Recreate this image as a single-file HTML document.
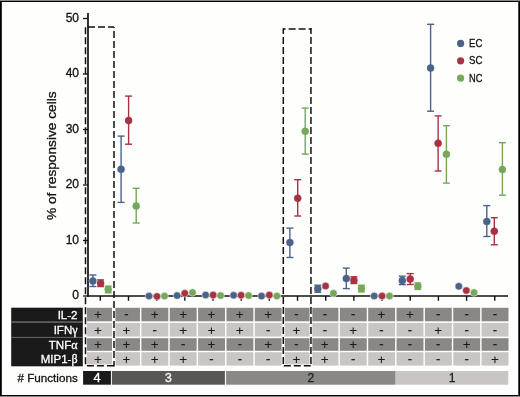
<!DOCTYPE html>
<html><head><meta charset="utf-8"><style>
html,body{margin:0;padding:0;background:#fefefc;}
svg{display:block;}
text{font-family:"Liberation Sans",Arial,sans-serif;}
</style></head><body>
<svg width="520" height="397" viewBox="0 0 520 397">
<rect x="0" y="0" width="520" height="397" fill="#fefefc"/>

<rect x="0" y="0" width="520" height="1" fill="#8a8a8a"/>
<rect x="0" y="396" width="520" height="1" fill="#8a8a8a"/>
<rect x="0" y="1" width="520" height="1" fill="#000"/>
<rect x="0" y="395" width="520" height="1" fill="#000"/>
<rect x="0" y="1" width="1" height="395" fill="#000"/>
<rect x="1" y="2" width="1" height="393" fill="#333"/>
<rect x="518" y="1" width="1" height="395" fill="#444"/>
<rect x="519" y="1" width="1" height="395" fill="#000"/>
<g stroke="#111" fill="none">
<line x1="88" y1="13" x2="88" y2="296.8" stroke-width="1.7"/>
<line x1="87.1" y1="296" x2="508" y2="296" stroke-width="1.7"/>
<line x1="83" y1="296.0" x2="88" y2="296.0" stroke-width="1.3"/>
<line x1="83" y1="240.5" x2="88" y2="240.5" stroke-width="1.3"/>
<line x1="83" y1="185.0" x2="88" y2="185.0" stroke-width="1.3"/>
<line x1="83" y1="129.5" x2="88" y2="129.5" stroke-width="1.3"/>
<line x1="83" y1="74.0" x2="88" y2="74.0" stroke-width="1.3"/>
<line x1="83" y1="18.5" x2="88" y2="18.5" stroke-width="1.3"/>
<line x1="100.30" y1="296" x2="100.30" y2="300.8" stroke-width="1.4"/>
<line x1="128.47" y1="296" x2="128.47" y2="300.8" stroke-width="1.4"/>
<line x1="156.65" y1="296" x2="156.65" y2="300.8" stroke-width="1.4"/>
<line x1="184.82" y1="296" x2="184.82" y2="300.8" stroke-width="1.4"/>
<line x1="213.00" y1="296" x2="213.00" y2="300.8" stroke-width="1.4"/>
<line x1="241.18" y1="296" x2="241.18" y2="300.8" stroke-width="1.4"/>
<line x1="269.35" y1="296" x2="269.35" y2="300.8" stroke-width="1.4"/>
<line x1="297.52" y1="296" x2="297.52" y2="300.8" stroke-width="1.4"/>
<line x1="325.70" y1="296" x2="325.70" y2="300.8" stroke-width="1.4"/>
<line x1="353.88" y1="296" x2="353.88" y2="300.8" stroke-width="1.4"/>
<line x1="382.05" y1="296" x2="382.05" y2="300.8" stroke-width="1.4"/>
<line x1="410.23" y1="296" x2="410.23" y2="300.8" stroke-width="1.4"/>
<line x1="438.40" y1="296" x2="438.40" y2="300.8" stroke-width="1.4"/>
<line x1="466.58" y1="296" x2="466.58" y2="300.8" stroke-width="1.4"/>
<line x1="494.75" y1="296" x2="494.75" y2="300.8" stroke-width="1.4"/>
</g>
<g font-size="12" fill="#111" stroke="#111" stroke-width="0.3" text-anchor="end">
<text x="79" y="299.3">0</text>
<text x="79" y="243.8">10</text>
<text x="79" y="188.3">20</text>
<text x="79" y="132.8">30</text>
<text x="79" y="77.3">40</text>
<text x="79" y="21.8">50</text>
</g>
<text transform="translate(55.6,155.7) rotate(-90)" text-anchor="middle" font-size="13.7" fill="#111" stroke="#111" stroke-width="0.3">% of responsive cells</text>
<circle cx="92.9" cy="280.9" r="3.75" fill="#4a6389" stroke="#fff" stroke-width="0.5"/>
<g stroke="#4a6389" stroke-width="1.4"><line x1="92.9" y1="275" x2="92.9" y2="286.5"/><line x1="89.4" y1="275" x2="96.4" y2="275"/><line x1="89.4" y1="286.5" x2="96.4" y2="286.5"/></g>
<circle cx="92.9" cy="280.9" r="3.5" fill="#4a6389"/>
<circle cx="100.6" cy="283.2" r="3.75" fill="#a63244" stroke="#fff" stroke-width="0.5"/>
<g stroke="#a63244" stroke-width="1.4"><line x1="100.6" y1="279.9" x2="100.6" y2="286.5"/><line x1="97.1" y1="279.9" x2="104.1" y2="279.9"/><line x1="97.1" y1="286.5" x2="104.1" y2="286.5"/></g>
<circle cx="100.6" cy="283.2" r="3.5" fill="#a63244"/>
<circle cx="108.2" cy="289.5" r="3.75" fill="#74a858" stroke="#fff" stroke-width="0.5"/>
<g stroke="#74a858" stroke-width="1.4"><line x1="108.2" y1="286.2" x2="108.2" y2="292.8"/><line x1="104.7" y1="286.2" x2="111.7" y2="286.2"/><line x1="104.7" y1="292.8" x2="111.7" y2="292.8"/></g>
<circle cx="108.2" cy="289.5" r="3.5" fill="#74a858"/>
<circle cx="121.1" cy="169.2" r="3.75" fill="#4a6389" stroke="#fff" stroke-width="0.5"/>
<g stroke="#4a6389" stroke-width="1.4"><line x1="121.1" y1="136.1" x2="121.1" y2="202.4"/><line x1="117.6" y1="136.1" x2="124.6" y2="136.1"/><line x1="117.6" y1="202.4" x2="124.6" y2="202.4"/></g>
<circle cx="121.1" cy="169.2" r="3.5" fill="#4a6389"/>
<circle cx="128.6" cy="120.4" r="3.75" fill="#a63244" stroke="#fff" stroke-width="0.5"/>
<g stroke="#a63244" stroke-width="1.4"><line x1="128.6" y1="96.1" x2="128.6" y2="144.2"/><line x1="125.1" y1="96.1" x2="132.1" y2="96.1"/><line x1="125.1" y1="144.2" x2="132.1" y2="144.2"/></g>
<circle cx="128.6" cy="120.4" r="3.5" fill="#a63244"/>
<circle cx="136.2" cy="206" r="3.75" fill="#74a858" stroke="#fff" stroke-width="0.5"/>
<g stroke="#74a858" stroke-width="1.4"><line x1="136.2" y1="188.3" x2="136.2" y2="223"/><line x1="132.7" y1="188.3" x2="139.7" y2="188.3"/><line x1="132.7" y1="223" x2="139.7" y2="223"/></g>
<circle cx="136.2" cy="206" r="3.5" fill="#74a858"/>
<circle cx="149" cy="296.1" r="3.75" fill="#4a6389" stroke="#fff" stroke-width="0.5"/>
<circle cx="157" cy="296.4" r="3.75" fill="#a63244" stroke="#fff" stroke-width="0.5"/>
<circle cx="164.5" cy="296.1" r="3.75" fill="#74a858" stroke="#fff" stroke-width="0.5"/>
<circle cx="177.1" cy="295.6" r="3.75" fill="#4a6389" stroke="#fff" stroke-width="0.5"/>
<circle cx="184.8" cy="293.3" r="3.75" fill="#a63244" stroke="#fff" stroke-width="0.5"/>
<circle cx="192.5" cy="292.5" r="3.75" fill="#74a858" stroke="#fff" stroke-width="0.5"/>
<circle cx="205.6" cy="295" r="3.75" fill="#4a6389" stroke="#fff" stroke-width="0.5"/>
<circle cx="213.2" cy="295" r="3.75" fill="#a63244" stroke="#fff" stroke-width="0.5"/>
<circle cx="220.6" cy="295.6" r="3.75" fill="#74a858" stroke="#fff" stroke-width="0.5"/>
<circle cx="233.6" cy="295.3" r="3.75" fill="#4a6389" stroke="#fff" stroke-width="0.5"/>
<circle cx="241.1" cy="295.2" r="3.75" fill="#a63244" stroke="#fff" stroke-width="0.5"/>
<circle cx="248.6" cy="295.6" r="3.75" fill="#74a858" stroke="#fff" stroke-width="0.5"/>
<circle cx="261.5" cy="296.1" r="3.75" fill="#4a6389" stroke="#fff" stroke-width="0.5"/>
<circle cx="269.3" cy="295" r="3.75" fill="#a63244" stroke="#fff" stroke-width="0.5"/>
<circle cx="276.9" cy="296.1" r="3.75" fill="#74a858" stroke="#fff" stroke-width="0.5"/>
<circle cx="289.9" cy="242.6" r="3.75" fill="#4a6389" stroke="#fff" stroke-width="0.5"/>
<g stroke="#4a6389" stroke-width="1.4"><line x1="289.9" y1="228.1" x2="289.9" y2="257.5"/><line x1="286.4" y1="228.1" x2="293.4" y2="228.1"/><line x1="286.4" y1="257.5" x2="293.4" y2="257.5"/></g>
<circle cx="289.9" cy="242.6" r="3.5" fill="#4a6389"/>
<circle cx="297.7" cy="198.2" r="3.75" fill="#a63244" stroke="#fff" stroke-width="0.5"/>
<g stroke="#a63244" stroke-width="1.4"><line x1="297.7" y1="179.7" x2="297.7" y2="216"/><line x1="294.2" y1="179.7" x2="301.2" y2="179.7"/><line x1="294.2" y1="216" x2="301.2" y2="216"/></g>
<circle cx="297.7" cy="198.2" r="3.5" fill="#a63244"/>
<circle cx="305.2" cy="131.3" r="3.75" fill="#74a858" stroke="#fff" stroke-width="0.5"/>
<g stroke="#74a858" stroke-width="1.4"><line x1="305.2" y1="108.1" x2="305.2" y2="154.1"/><line x1="301.7" y1="108.1" x2="308.7" y2="108.1"/><line x1="301.7" y1="154.1" x2="308.7" y2="154.1"/></g>
<circle cx="305.2" cy="131.3" r="3.5" fill="#74a858"/>
<circle cx="317.8" cy="288.7" r="3.75" fill="#4a6389" stroke="#fff" stroke-width="0.5"/>
<g stroke="#4a6389" stroke-width="1.4"><line x1="317.8" y1="285.2" x2="317.8" y2="292.2"/><line x1="314.3" y1="285.2" x2="321.3" y2="285.2"/><line x1="314.3" y1="292.2" x2="321.3" y2="292.2"/></g>
<circle cx="317.8" cy="288.7" r="3.5" fill="#4a6389"/>
<circle cx="325.6" cy="286.1" r="3.75" fill="#a63244" stroke="#fff" stroke-width="0.5"/>
<circle cx="333.4" cy="293.3" r="3.75" fill="#74a858" stroke="#fff" stroke-width="0.5"/>
<circle cx="346.3" cy="278.5" r="3.75" fill="#4a6389" stroke="#fff" stroke-width="0.5"/>
<g stroke="#4a6389" stroke-width="1.4"><line x1="346.3" y1="268.1" x2="346.3" y2="288.6"/><line x1="342.8" y1="268.1" x2="349.8" y2="268.1"/><line x1="342.8" y1="288.6" x2="349.8" y2="288.6"/></g>
<circle cx="346.3" cy="278.5" r="3.5" fill="#4a6389"/>
<circle cx="353.9" cy="280.2" r="3.75" fill="#a63244" stroke="#fff" stroke-width="0.5"/>
<g stroke="#a63244" stroke-width="1.4"><line x1="353.9" y1="276.8" x2="353.9" y2="283.5"/><line x1="350.4" y1="276.8" x2="357.4" y2="276.8"/><line x1="350.4" y1="283.5" x2="357.4" y2="283.5"/></g>
<circle cx="353.9" cy="280.2" r="3.5" fill="#a63244"/>
<circle cx="361.4" cy="288.6" r="3.75" fill="#74a858" stroke="#fff" stroke-width="0.5"/>
<g stroke="#74a858" stroke-width="1.4"><line x1="361.4" y1="285.3" x2="361.4" y2="291.9"/><line x1="357.9" y1="285.3" x2="364.9" y2="285.3"/><line x1="357.9" y1="291.9" x2="364.9" y2="291.9"/></g>
<circle cx="361.4" cy="288.6" r="3.5" fill="#74a858"/>
<circle cx="374.2" cy="296" r="3.75" fill="#4a6389" stroke="#fff" stroke-width="0.5"/>
<circle cx="382.1" cy="296" r="3.75" fill="#a63244" stroke="#fff" stroke-width="0.5"/>
<circle cx="389.5" cy="296" r="3.75" fill="#74a858" stroke="#fff" stroke-width="0.5"/>
<circle cx="402.3" cy="280.4" r="3.75" fill="#4a6389" stroke="#fff" stroke-width="0.5"/>
<g stroke="#4a6389" stroke-width="1.4"><line x1="402.3" y1="276.2" x2="402.3" y2="284.6"/><line x1="398.8" y1="276.2" x2="405.8" y2="276.2"/><line x1="398.8" y1="284.6" x2="405.8" y2="284.6"/></g>
<circle cx="402.3" cy="280.4" r="3.5" fill="#4a6389"/>
<circle cx="410.2" cy="279" r="3.75" fill="#a63244" stroke="#fff" stroke-width="0.5"/>
<g stroke="#a63244" stroke-width="1.4"><line x1="410.2" y1="273.6" x2="410.2" y2="284.5"/><line x1="406.7" y1="273.6" x2="413.7" y2="273.6"/><line x1="406.7" y1="284.5" x2="413.7" y2="284.5"/></g>
<circle cx="410.2" cy="279" r="3.5" fill="#a63244"/>
<circle cx="417.8" cy="286.3" r="3.75" fill="#74a858" stroke="#fff" stroke-width="0.5"/>
<g stroke="#74a858" stroke-width="1.4"><line x1="417.8" y1="283" x2="417.8" y2="289.4"/><line x1="414.3" y1="283" x2="421.3" y2="283"/><line x1="414.3" y1="289.4" x2="421.3" y2="289.4"/></g>
<circle cx="417.8" cy="286.3" r="3.5" fill="#74a858"/>
<circle cx="430.6" cy="67.9" r="3.75" fill="#4a6389" stroke="#fff" stroke-width="0.5"/>
<g stroke="#4a6389" stroke-width="1.4"><line x1="430.6" y1="24.3" x2="430.6" y2="111.2"/><line x1="427.1" y1="24.3" x2="434.1" y2="24.3"/><line x1="427.1" y1="111.2" x2="434.1" y2="111.2"/></g>
<circle cx="430.6" cy="67.9" r="3.5" fill="#4a6389"/>
<circle cx="438.1" cy="143.3" r="3.75" fill="#a63244" stroke="#fff" stroke-width="0.5"/>
<g stroke="#a63244" stroke-width="1.4"><line x1="438.1" y1="115.9" x2="438.1" y2="171"/><line x1="434.6" y1="115.9" x2="441.6" y2="115.9"/><line x1="434.6" y1="171" x2="441.6" y2="171"/></g>
<circle cx="438.1" cy="143.3" r="3.5" fill="#a63244"/>
<circle cx="446.4" cy="154.2" r="3.75" fill="#74a858" stroke="#fff" stroke-width="0.5"/>
<g stroke="#74a858" stroke-width="1.4"><line x1="446.4" y1="125.7" x2="446.4" y2="183.1"/><line x1="442.9" y1="125.7" x2="449.9" y2="125.7"/><line x1="442.9" y1="183.1" x2="449.9" y2="183.1"/></g>
<circle cx="446.4" cy="154.2" r="3.5" fill="#74a858"/>
<circle cx="458.8" cy="286.3" r="3.75" fill="#4a6389" stroke="#fff" stroke-width="0.5"/>
<circle cx="466.3" cy="290.6" r="3.75" fill="#a63244" stroke="#fff" stroke-width="0.5"/>
<circle cx="474" cy="292.6" r="3.75" fill="#74a858" stroke="#fff" stroke-width="0.5"/>
<circle cx="486.8" cy="221.4" r="3.75" fill="#4a6389" stroke="#fff" stroke-width="0.5"/>
<g stroke="#4a6389" stroke-width="1.4"><line x1="486.8" y1="205.6" x2="486.8" y2="236.5"/><line x1="483.3" y1="205.6" x2="490.3" y2="205.6"/><line x1="483.3" y1="236.5" x2="490.3" y2="236.5"/></g>
<circle cx="486.8" cy="221.4" r="3.5" fill="#4a6389"/>
<circle cx="494.3" cy="231.3" r="3.75" fill="#a63244" stroke="#fff" stroke-width="0.5"/>
<g stroke="#a63244" stroke-width="1.4"><line x1="494.3" y1="217.7" x2="494.3" y2="244.8"/><line x1="490.8" y1="217.7" x2="497.8" y2="217.7"/><line x1="490.8" y1="244.8" x2="497.8" y2="244.8"/></g>
<circle cx="494.3" cy="231.3" r="3.5" fill="#a63244"/>
<circle cx="502.4" cy="169.4" r="3.75" fill="#74a858" stroke="#fff" stroke-width="0.5"/>
<g stroke="#74a858" stroke-width="1.4"><line x1="502.4" y1="142.7" x2="502.4" y2="195.2"/><line x1="498.9" y1="142.7" x2="505.9" y2="142.7"/><line x1="498.9" y1="195.2" x2="505.9" y2="195.2"/></g>
<circle cx="502.4" cy="169.4" r="3.5" fill="#74a858"/>
<circle cx="460.6" cy="43.4" r="3.6" fill="#4a6389"/>
<text x="469" y="46.8" font-size="11" fill="#111" stroke="#111" stroke-width="0.3" textLength="13.4" lengthAdjust="spacingAndGlyphs">EC</text>
<circle cx="460.6" cy="60.8" r="3.6" fill="#a63244"/>
<text x="469" y="64.2" font-size="11" fill="#111" stroke="#111" stroke-width="0.3" textLength="13.4" lengthAdjust="spacingAndGlyphs">SC</text>
<circle cx="460.6" cy="78.1" r="3.6" fill="#74a858"/>
<text x="469" y="81.5" font-size="11" fill="#111" stroke="#111" stroke-width="0.3" textLength="13.4" lengthAdjust="spacingAndGlyphs">NC</text>
<rect x="11.2" y="307.7" width="71.6" height="58.6" fill="#1a1a1a"/>
<rect x="11.2" y="321.3" width="71.6" height="1.5" fill="#6a6a6a"/>
<rect x="11.2" y="336.9" width="71.6" height="1" fill="#6a6a6a"/>
<text x="77.5" y="318.8" text-anchor="end" font-size="11.5" fill="#fff" stroke="#fff" stroke-width="0.3">IL-2</text>
<text x="77.5" y="333.9" text-anchor="end" font-size="11.5" fill="#fff" stroke="#fff" stroke-width="0.3">IFN<tspan font-family="Liberation Serif" font-size="12">&#947;</tspan></text>
<text x="77.5" y="348.7" text-anchor="end" font-size="11.5" fill="#fff" stroke="#fff" stroke-width="0.3">TNF<tspan font-family="Liberation Serif" font-size="12">&#945;</tspan></text>
<text x="77.5" y="363.1" text-anchor="end" font-size="11.5" fill="#fff" stroke="#fff" stroke-width="0.3">MIP1-<tspan font-family="Liberation Serif" font-size="12">&#946;</tspan></text>
<rect x="84.70" y="307.8" width="27.3" height="13.5" fill="#8a8887"/>
<text x="98.0" y="319.4" text-anchor="middle" font-size="13.5" fill="#1a1a1a" stroke="#1a1a1a" stroke-width="0.1">+</text>
<rect x="84.70" y="322.9" width="27.3" height="13.7" fill="#c9c5c4"/>
<text x="98.0" y="334.6" text-anchor="middle" font-size="13.5" fill="#1a1a1a" stroke="#1a1a1a" stroke-width="0.1">+</text>
<rect x="84.70" y="338.2" width="27.3" height="12.6" fill="#8a8887"/>
<text x="98.0" y="349.3" text-anchor="middle" font-size="13.5" fill="#1a1a1a" stroke="#1a1a1a" stroke-width="0.1">+</text>
<rect x="84.70" y="352.2" width="27.3" height="13.4" fill="#c9c5c4"/>
<text x="98.0" y="363.7" text-anchor="middle" font-size="13.5" fill="#1a1a1a" stroke="#1a1a1a" stroke-width="0.1">+</text>
<rect x="113.05" y="307.8" width="26.9" height="13.5" fill="#8a8887"/>
<text x="126.4" y="318.4" text-anchor="middle" font-size="13" fill="#1a1a1a" stroke="#1a1a1a" stroke-width="0.25">-</text>
<rect x="113.05" y="322.9" width="26.9" height="13.7" fill="#c9c5c4"/>
<text x="126.4" y="334.6" text-anchor="middle" font-size="13.5" fill="#1a1a1a" stroke="#1a1a1a" stroke-width="0.1">+</text>
<rect x="113.05" y="338.2" width="26.9" height="12.6" fill="#8a8887"/>
<text x="126.4" y="349.3" text-anchor="middle" font-size="13.5" fill="#1a1a1a" stroke="#1a1a1a" stroke-width="0.1">+</text>
<rect x="113.05" y="352.2" width="26.9" height="13.4" fill="#c9c5c4"/>
<text x="126.4" y="363.7" text-anchor="middle" font-size="13.5" fill="#1a1a1a" stroke="#1a1a1a" stroke-width="0.1">+</text>
<rect x="141.40" y="307.8" width="26.9" height="13.5" fill="#8a8887"/>
<text x="154.7" y="319.4" text-anchor="middle" font-size="13.5" fill="#1a1a1a" stroke="#1a1a1a" stroke-width="0.1">+</text>
<rect x="141.40" y="322.9" width="26.9" height="13.7" fill="#c9c5c4"/>
<text x="154.7" y="333.6" text-anchor="middle" font-size="13" fill="#1a1a1a" stroke="#1a1a1a" stroke-width="0.25">-</text>
<rect x="141.40" y="338.2" width="26.9" height="12.6" fill="#8a8887"/>
<text x="154.7" y="349.3" text-anchor="middle" font-size="13.5" fill="#1a1a1a" stroke="#1a1a1a" stroke-width="0.1">+</text>
<rect x="141.40" y="352.2" width="26.9" height="13.4" fill="#c9c5c4"/>
<text x="154.7" y="363.7" text-anchor="middle" font-size="13.5" fill="#1a1a1a" stroke="#1a1a1a" stroke-width="0.1">+</text>
<rect x="169.75" y="307.8" width="26.9" height="13.5" fill="#8a8887"/>
<text x="183.1" y="319.4" text-anchor="middle" font-size="13.5" fill="#1a1a1a" stroke="#1a1a1a" stroke-width="0.1">+</text>
<rect x="169.75" y="322.9" width="26.9" height="13.7" fill="#c9c5c4"/>
<text x="183.1" y="334.6" text-anchor="middle" font-size="13.5" fill="#1a1a1a" stroke="#1a1a1a" stroke-width="0.1">+</text>
<rect x="169.75" y="338.2" width="26.9" height="12.6" fill="#8a8887"/>
<text x="183.1" y="348.3" text-anchor="middle" font-size="13" fill="#1a1a1a" stroke="#1a1a1a" stroke-width="0.25">-</text>
<rect x="169.75" y="352.2" width="26.9" height="13.4" fill="#c9c5c4"/>
<text x="183.1" y="363.7" text-anchor="middle" font-size="13.5" fill="#1a1a1a" stroke="#1a1a1a" stroke-width="0.1">+</text>
<rect x="198.10" y="307.8" width="26.9" height="13.5" fill="#8a8887"/>
<text x="211.4" y="319.4" text-anchor="middle" font-size="13.5" fill="#1a1a1a" stroke="#1a1a1a" stroke-width="0.1">+</text>
<rect x="198.10" y="322.9" width="26.9" height="13.7" fill="#c9c5c4"/>
<text x="211.4" y="334.6" text-anchor="middle" font-size="13.5" fill="#1a1a1a" stroke="#1a1a1a" stroke-width="0.1">+</text>
<rect x="198.10" y="338.2" width="26.9" height="12.6" fill="#8a8887"/>
<text x="211.4" y="349.3" text-anchor="middle" font-size="13.5" fill="#1a1a1a" stroke="#1a1a1a" stroke-width="0.1">+</text>
<rect x="198.10" y="352.2" width="26.9" height="13.4" fill="#c9c5c4"/>
<text x="211.4" y="362.7" text-anchor="middle" font-size="13" fill="#1a1a1a" stroke="#1a1a1a" stroke-width="0.25">-</text>
<rect x="226.45" y="307.8" width="26.9" height="13.5" fill="#8a8887"/>
<text x="239.8" y="319.4" text-anchor="middle" font-size="13.5" fill="#1a1a1a" stroke="#1a1a1a" stroke-width="0.1">+</text>
<rect x="226.45" y="322.9" width="26.9" height="13.7" fill="#c9c5c4"/>
<text x="239.8" y="334.6" text-anchor="middle" font-size="13.5" fill="#1a1a1a" stroke="#1a1a1a" stroke-width="0.1">+</text>
<rect x="226.45" y="338.2" width="26.9" height="12.6" fill="#8a8887"/>
<text x="239.8" y="348.3" text-anchor="middle" font-size="13" fill="#1a1a1a" stroke="#1a1a1a" stroke-width="0.25">-</text>
<rect x="226.45" y="352.2" width="26.9" height="13.4" fill="#c9c5c4"/>
<text x="239.8" y="362.7" text-anchor="middle" font-size="13" fill="#1a1a1a" stroke="#1a1a1a" stroke-width="0.25">-</text>
<rect x="254.80" y="307.8" width="26.9" height="13.5" fill="#8a8887"/>
<text x="268.1" y="319.4" text-anchor="middle" font-size="13.5" fill="#1a1a1a" stroke="#1a1a1a" stroke-width="0.1">+</text>
<rect x="254.80" y="322.9" width="26.9" height="13.7" fill="#c9c5c4"/>
<text x="268.1" y="333.6" text-anchor="middle" font-size="13" fill="#1a1a1a" stroke="#1a1a1a" stroke-width="0.25">-</text>
<rect x="254.80" y="338.2" width="26.9" height="12.6" fill="#8a8887"/>
<text x="268.1" y="349.3" text-anchor="middle" font-size="13.5" fill="#1a1a1a" stroke="#1a1a1a" stroke-width="0.1">+</text>
<rect x="254.80" y="352.2" width="26.9" height="13.4" fill="#c9c5c4"/>
<text x="268.1" y="362.7" text-anchor="middle" font-size="13" fill="#1a1a1a" stroke="#1a1a1a" stroke-width="0.25">-</text>
<rect x="283.15" y="307.8" width="26.9" height="13.5" fill="#8a8887"/>
<text x="296.5" y="318.4" text-anchor="middle" font-size="13" fill="#1a1a1a" stroke="#1a1a1a" stroke-width="0.25">-</text>
<rect x="283.15" y="322.9" width="26.9" height="13.7" fill="#c9c5c4"/>
<text x="296.5" y="334.6" text-anchor="middle" font-size="13.5" fill="#1a1a1a" stroke="#1a1a1a" stroke-width="0.1">+</text>
<rect x="283.15" y="338.2" width="26.9" height="12.6" fill="#8a8887"/>
<text x="296.5" y="348.3" text-anchor="middle" font-size="13" fill="#1a1a1a" stroke="#1a1a1a" stroke-width="0.25">-</text>
<rect x="283.15" y="352.2" width="26.9" height="13.4" fill="#c9c5c4"/>
<text x="296.5" y="363.7" text-anchor="middle" font-size="13.5" fill="#1a1a1a" stroke="#1a1a1a" stroke-width="0.1">+</text>
<rect x="311.50" y="307.8" width="26.9" height="13.5" fill="#8a8887"/>
<text x="324.8" y="318.4" text-anchor="middle" font-size="13" fill="#1a1a1a" stroke="#1a1a1a" stroke-width="0.25">-</text>
<rect x="311.50" y="322.9" width="26.9" height="13.7" fill="#c9c5c4"/>
<text x="324.8" y="333.6" text-anchor="middle" font-size="13" fill="#1a1a1a" stroke="#1a1a1a" stroke-width="0.25">-</text>
<rect x="311.50" y="338.2" width="26.9" height="12.6" fill="#8a8887"/>
<text x="324.8" y="349.3" text-anchor="middle" font-size="13.5" fill="#1a1a1a" stroke="#1a1a1a" stroke-width="0.1">+</text>
<rect x="311.50" y="352.2" width="26.9" height="13.4" fill="#c9c5c4"/>
<text x="324.8" y="363.7" text-anchor="middle" font-size="13.5" fill="#1a1a1a" stroke="#1a1a1a" stroke-width="0.1">+</text>
<rect x="339.85" y="307.8" width="26.9" height="13.5" fill="#8a8887"/>
<text x="353.2" y="318.4" text-anchor="middle" font-size="13" fill="#1a1a1a" stroke="#1a1a1a" stroke-width="0.25">-</text>
<rect x="339.85" y="322.9" width="26.9" height="13.7" fill="#c9c5c4"/>
<text x="353.2" y="334.6" text-anchor="middle" font-size="13.5" fill="#1a1a1a" stroke="#1a1a1a" stroke-width="0.1">+</text>
<rect x="339.85" y="338.2" width="26.9" height="12.6" fill="#8a8887"/>
<text x="353.2" y="349.3" text-anchor="middle" font-size="13.5" fill="#1a1a1a" stroke="#1a1a1a" stroke-width="0.1">+</text>
<rect x="339.85" y="352.2" width="26.9" height="13.4" fill="#c9c5c4"/>
<text x="353.2" y="362.7" text-anchor="middle" font-size="13" fill="#1a1a1a" stroke="#1a1a1a" stroke-width="0.25">-</text>
<rect x="368.20" y="307.8" width="26.9" height="13.5" fill="#8a8887"/>
<text x="381.5" y="319.4" text-anchor="middle" font-size="13.5" fill="#1a1a1a" stroke="#1a1a1a" stroke-width="0.1">+</text>
<rect x="368.20" y="322.9" width="26.9" height="13.7" fill="#c9c5c4"/>
<text x="381.5" y="333.6" text-anchor="middle" font-size="13" fill="#1a1a1a" stroke="#1a1a1a" stroke-width="0.25">-</text>
<rect x="368.20" y="338.2" width="26.9" height="12.6" fill="#8a8887"/>
<text x="381.5" y="348.3" text-anchor="middle" font-size="13" fill="#1a1a1a" stroke="#1a1a1a" stroke-width="0.25">-</text>
<rect x="368.20" y="352.2" width="26.9" height="13.4" fill="#c9c5c4"/>
<text x="381.5" y="363.7" text-anchor="middle" font-size="13.5" fill="#1a1a1a" stroke="#1a1a1a" stroke-width="0.1">+</text>
<rect x="396.55" y="307.8" width="26.9" height="13.5" fill="#8a8887"/>
<text x="409.9" y="319.4" text-anchor="middle" font-size="13.5" fill="#1a1a1a" stroke="#1a1a1a" stroke-width="0.1">+</text>
<rect x="396.55" y="322.9" width="26.9" height="13.7" fill="#c9c5c4"/>
<text x="409.9" y="333.6" text-anchor="middle" font-size="13" fill="#1a1a1a" stroke="#1a1a1a" stroke-width="0.25">-</text>
<rect x="396.55" y="338.2" width="26.9" height="12.6" fill="#8a8887"/>
<text x="409.9" y="348.3" text-anchor="middle" font-size="13" fill="#1a1a1a" stroke="#1a1a1a" stroke-width="0.25">-</text>
<rect x="396.55" y="352.2" width="26.9" height="13.4" fill="#c9c5c4"/>
<text x="409.9" y="362.7" text-anchor="middle" font-size="13" fill="#1a1a1a" stroke="#1a1a1a" stroke-width="0.25">-</text>
<rect x="424.90" y="307.8" width="26.9" height="13.5" fill="#8a8887"/>
<text x="438.2" y="318.4" text-anchor="middle" font-size="13" fill="#1a1a1a" stroke="#1a1a1a" stroke-width="0.25">-</text>
<rect x="424.90" y="322.9" width="26.9" height="13.7" fill="#c9c5c4"/>
<text x="438.2" y="334.6" text-anchor="middle" font-size="13.5" fill="#1a1a1a" stroke="#1a1a1a" stroke-width="0.1">+</text>
<rect x="424.90" y="338.2" width="26.9" height="12.6" fill="#8a8887"/>
<text x="438.2" y="348.3" text-anchor="middle" font-size="13" fill="#1a1a1a" stroke="#1a1a1a" stroke-width="0.25">-</text>
<rect x="424.90" y="352.2" width="26.9" height="13.4" fill="#c9c5c4"/>
<text x="438.2" y="362.7" text-anchor="middle" font-size="13" fill="#1a1a1a" stroke="#1a1a1a" stroke-width="0.25">-</text>
<rect x="453.25" y="307.8" width="26.9" height="13.5" fill="#8a8887"/>
<text x="466.6" y="318.4" text-anchor="middle" font-size="13" fill="#1a1a1a" stroke="#1a1a1a" stroke-width="0.25">-</text>
<rect x="453.25" y="322.9" width="26.9" height="13.7" fill="#c9c5c4"/>
<text x="466.6" y="333.6" text-anchor="middle" font-size="13" fill="#1a1a1a" stroke="#1a1a1a" stroke-width="0.25">-</text>
<rect x="453.25" y="338.2" width="26.9" height="12.6" fill="#8a8887"/>
<text x="466.6" y="349.3" text-anchor="middle" font-size="13.5" fill="#1a1a1a" stroke="#1a1a1a" stroke-width="0.1">+</text>
<rect x="453.25" y="352.2" width="26.9" height="13.4" fill="#c9c5c4"/>
<text x="466.6" y="362.7" text-anchor="middle" font-size="13" fill="#1a1a1a" stroke="#1a1a1a" stroke-width="0.25">-</text>
<rect x="481.60" y="307.8" width="26.9" height="13.5" fill="#8a8887"/>
<text x="494.9" y="318.4" text-anchor="middle" font-size="13" fill="#1a1a1a" stroke="#1a1a1a" stroke-width="0.25">-</text>
<rect x="481.60" y="322.9" width="26.9" height="13.7" fill="#c9c5c4"/>
<text x="494.9" y="333.6" text-anchor="middle" font-size="13" fill="#1a1a1a" stroke="#1a1a1a" stroke-width="0.25">-</text>
<rect x="481.60" y="338.2" width="26.9" height="12.6" fill="#8a8887"/>
<text x="494.9" y="348.3" text-anchor="middle" font-size="13" fill="#1a1a1a" stroke="#1a1a1a" stroke-width="0.25">-</text>
<rect x="481.60" y="352.2" width="26.9" height="13.4" fill="#c9c5c4"/>
<text x="494.9" y="363.7" text-anchor="middle" font-size="13.5" fill="#1a1a1a" stroke="#1a1a1a" stroke-width="0.1">+</text>
<text x="17.4" y="381.8" font-size="11.7" fill="#111" stroke="#111" stroke-width="0.3"># Functions</text>
<rect x="83.1" y="371" width="27.8" height="13.7" fill="#1a1a1a"/>
<text x="97.0" y="382.3" text-anchor="middle" font-size="12.8" fill="#fff" stroke="#fff" stroke-width="0.3">4</text>
<rect x="111.9" y="371" width="113.0" height="13.7" fill="#585753"/>
<text x="168.4" y="382.3" text-anchor="middle" font-size="12.8" fill="#f4f4f4" stroke="#f4f4f4" stroke-width="0.3">3</text>
<rect x="226.1" y="371" width="169.5" height="13.7" fill="#8a8887"/>
<text x="310.9" y="382.3" text-anchor="middle" font-size="12.2" fill="#222" stroke="#222" stroke-width="0.3">2</text>
<rect x="395.8" y="371" width="112.5" height="13.7" fill="#c9c5c4"/>
<text x="452.1" y="382.3" text-anchor="middle" font-size="12.2" fill="#222" stroke="#222" stroke-width="0.3">1</text>
<g fill="none" stroke="#fefefc" stroke-width="2.8">
<line x1="85.5" y1="307.5" x2="85.5" y2="366"/>
<line x1="114.0" y1="307.5" x2="114.0" y2="366"/>
<line x1="283.3" y1="307.5" x2="283.3" y2="366"/>
<line x1="310.95" y1="307.5" x2="310.95" y2="366"/>
<line x1="84" y1="365.8" x2="115.5" y2="365.8"/>
<line x1="282" y1="365.8" x2="312.4" y2="365.8"/>
</g>
<g fill="none" stroke="#111" stroke-width="1.5" stroke-dasharray="7 3">
<line x1="88" y1="27.1" x2="114.0" y2="27.1" stroke-dashoffset="0"/>
<line x1="85.5" y1="27.3" x2="85.5" y2="366.5" stroke-dashoffset="0"/>
<line x1="114.0" y1="27.1" x2="114.0" y2="366.5" stroke-dashoffset="6.1"/>
<line x1="86.9" y1="365.8" x2="114.7" y2="365.8" stroke-dashoffset="0"/>
<line x1="283.3" y1="29.0" x2="311.7" y2="29.0" stroke-dashoffset="4.7"/>
<line x1="283.3" y1="28.3" x2="283.3" y2="366.5" stroke-dashoffset="1.3"/>
<line x1="310.95" y1="28.3" x2="310.95" y2="366.5" stroke-dashoffset="1.3"/>
<line x1="283.8" y1="365.8" x2="311.7" y2="365.8" stroke-dashoffset="0"/>
</g>
</svg></body></html>
